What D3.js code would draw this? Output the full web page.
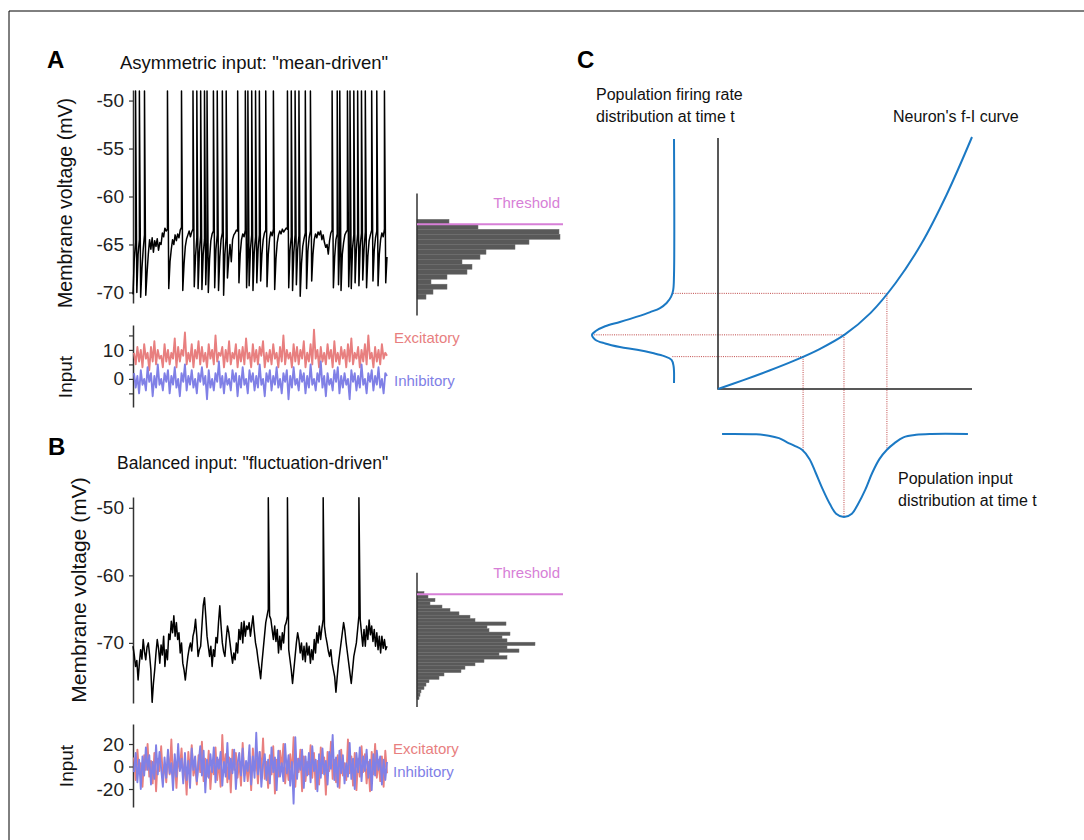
<!DOCTYPE html>
<html>
<head>
<meta charset="utf-8">
<script src="https://cdn.jsdelivr.net/npm/d3@7"></script>
<style>
body { margin: 0; background: #fff; }
svg { display: block; font-family: "Liberation Sans", Arial, sans-serif; }
</style>
</head>
<body>
<svg id="fig" width="1084" height="840"></svg>
<script>
// ---- panel A : membrane voltage (mV), one sample per step ----
const voltA = [
-70.2,-66.5,-64.8,-70.0,-66.0,-64.5,-70.5,-67.5,-65.5,-64.0,
-70.3,-68.0,-66.0,-64.5,-65.5,-64.3,-65.8,-64.6,-65.2,-64.4,
-65.6,-64.8,-65.0,-63.8,-64.2,-63.3,-63.6,-63.4,-69.6,-66.8,
-65.5,-64.5,-65.0,-64.0,-64.6,-63.9,-64.3,-63.5,-63.2,-69.8,
-67.0,-65.2,-64.4,-64.0,-63.6,-64.2,-63.7,-63.4,-69.4,-66.2,
-64.3,-69.6,-65.8,-64.1,-69.7,-66.0,-64.5,-69.2,-64.8,-70.0,
-66.5,-64.6,-63.9,-63.6,-69.5,-65.5,-64.0,-69.8,-66.3,-64.5,
-63.8,-70.3,-66.0,-64.2,-68.5,-66.5,-65.0,-66.8,-64.5,-64.0,
-63.8,-63.5,-63.6,-69.0,-66.0,-64.5,-63.9,-64.2,-63.5,-69.5,
-64.8,-69.3,-65.5,-64.0,-69.8,-65.8,-64.2,-69.0,-65.5,-64.0,
-68.8,-66.0,-64.5,-63.8,-63.5,-69.4,-66.0,-64.4,-63.7,-64.1,
-63.4,-69.7,-66.5,-64.8,-64.0,-63.6,-63.9,-63.4,-63.7,-63.5,
-63.3,-63.4,-69.5,-65.6,-64.2,-69.8,-65.8,-64.0,-69.2,-65.5,
-64.1,-70.4,-67.0,-65.2,-64.4,-63.8,-69.6,-65.7,-64.3,-63.6,
-68.8,-66.0,-64.5,-63.9,-64.3,-63.7,-64.0,-63.6,-64.5,-64.0,
-64.8,-65.3,-65.0,-66.0,-64.6,-63.8,-63.5,-69.5,-66.3,-64.5,
-63.9,-69.2,-64.6,-69.8,-66.0,-64.8,-64.0,-63.7,-63.5,-69.4,
-64.9,-69.6,-65.4,-64.0,-69.0,-65.5,-63.9,-69.3,-65.2,-63.8,
-68.7,-65.5,-63.7,-69.5,-66.2,-64.6,-64.0,-63.5,-68.8,-65.6,
-64.3,-63.6,-69.3,-66.0,-64.5,-63.8,-64.2,-63.4,-69.0,-66.3];
const spikesA = [2,5,9,27,38,47,50,53,56,58,63,66,70,73,82,88,90,93,96,99,104,110,
  121,124,127,130,135,139,156,160,162,168,170,173,176,179,182,187,191,197];
const spikePeakA = -49;
const yTicksA = [-50,-55,-60,-65,-70];

// histogram A, bins listed from top (highest voltage) down
const histTopA = -62.38, binWidthA = 0.52;
const histCountsA = [32,61,142,143,112,98,69,63,45,55,50,30,14,30,16,9];
const thresholdA = -62.9;

// input A
const excA = [9,5,11,6,10,4,12,7,9,3,11,6,13,5,10,7,8,4,12,6,
 10,5,9,7,14,4,11,6,10,8,16,5,9,6,12,4,10,7,13,5,
 11,6,9,4,12,7,10,5,15,6,9,8,11,4,10,6,13,5,9,7,
 12,4,10,6,11,5,14,7,9,4,12,6,10,5,11,8,13,4,9,6,
 10,5,12,7,9,4,11,6,15,5,10,7,9,4,12,6,11,5,10,7,
 13,4,9,6,12,5,17,7,10,4,11,6,9,5,12,7,10,4,13,6,
 9,5,11,7,10,4,12,6,14,5,9,7,11,4,10,6,12,5,15,7,
 9,4,11,6,10,5,12,7,9,8];
const inhA = [2,-3,1,-5,3,-2,0,-4,4,-1,2,-6,1,-3,5,-2,0,-4,2,-1,
 3,-5,1,-2,4,-3,0,-6,2,-1,5,-4,1,-2,3,-3,0,-5,2,-1,
 4,-2,1,-7,3,-3,0,-4,2,-1,6,-3,1,-5,2,-2,0,-4,3,-1,
 2,-6,1,-3,4,-2,0,-5,3,-1,2,-4,1,-3,5,-2,0,-6,2,-1,
 3,-4,1,-2,4,-3,0,-5,2,-1,3,-7,1,-3,4,-2,0,-4,3,-1,
 2,-5,1,-3,5,-2,0,-4,2,-1,6,-3,1,-6,2,-2,0,-4,3,-1,
 4,-5,1,-3,2,-2,0,-7,3,-1,2,-4,1,-3,5,-2,0,-5,2,-1,
 3,-4,1,-2,4,-3,0,-5,2,1];
const inTicksA = [-5,0,5,10,15];
const inLabelsA = [0,10];

// ---- panel B ----
const voltB = [
-70.5,-71.8,-73.5,-72.6,-75.5,-73.0,-71.0,-72.4,-69.5,-71.3,
-72.5,-70.6,-70.0,-71.8,-74.0,-78.8,-76.0,-74.0,-71.5,-69.5,
-70.8,-73.0,-70.3,-71.8,-69.0,-73.5,-71.0,-72.5,-68.7,-69.5,
-66.8,-68.5,-66.0,-69.0,-67.0,-69.5,-68.5,-71.5,-70.0,-73.0,
-74.0,-75.5,-73.6,-72.0,-70.8,-70.0,-71.2,-69.0,-68.2,-66.5,
-69.0,-72.0,-71.0,-70.5,-67.5,-64.5,-63.3,-66.0,-69.0,-70.5,
-72.0,-70.5,-73.5,-71.0,-72.0,-69.2,-70.0,-67.0,-64.5,-67.5,
-70.0,-71.3,-72.0,-69.5,-67.5,-68.4,-70.0,-71.6,-73.0,-71.5,
-72.5,-70.0,-71.5,-68.0,-69.5,-67.0,-70.0,-66.8,-69.0,-67.5,
-68.0,-67.0,-69.0,-67.5,-66.0,-68.2,-70.0,-71.0,-72.5,-73.8,
-75.3,-73.0,-71.0,-69.0,-67.0,-66.0,-65.0,-66.0,-66.5,-68.0,
-69.5,-67.5,-69.8,-68.0,-71.5,-69.0,-71.0,-68.5,-70.0,-67.5,
-67.0,-66.0,-71.0,-72.5,-74.0,-76.0,-74.0,-72.0,-70.0,-68.5,
-69.6,-71.5,-70.0,-72.5,-70.5,-72.8,-70.0,-71.8,-70.5,-73.0,
-71.0,-72.5,-69.5,-71.5,-68.5,-70.0,-67.5,-69.5,-67.8,-66.5,
-67.5,-69.0,-70.0,-71.2,-72.0,-71.0,-73.0,-74.0,-75.0,-77.3,
-75.0,-73.0,-71.5,-70.0,-68.5,-67.0,-68.2,-70.0,-71.5,-73.0,
-74.5,-76.0,-74.0,-72.0,-71.0,-70.0,-68.0,-66.0,-66.5,-68.5,
-70.5,-68.0,-70.5,-67.5,-69.5,-66.6,-68.8,-67.5,-69.8,-68.0,
-70.5,-68.5,-71.0,-69.0,-71.5,-69.0,-70.8,-69.5,-71.0,-70.5];
const spikesB = [106,121,149,177];
const spikePeakB = -48.5;
const yTicksB = [-50,-60,-70];

const histTopB = -62.4, binWidthB = 0.5;
const histCountsB = [7,11,18,13,25,33,42,53,58,89,70,72,93,85,90,118,90,102,82,90,
  67,58,48,44,27,22,12,9,7,4,3,2];
const thresholdB = -62.8;

const excB = [8,-12,15,-6,3,-18,10,-3,20,-9,5,-15,12,-22,7,-4,18,-10,2,-14,
 11,-7,24,-12,6,-19,9,-2,16,-11,4,-25,13,-6,19,-8,1,-16,10,-5,
 22,-13,7,-9,14,-20,3,-7,17,-12,6,-18,28,-5,11,-14,8,-23,15,-3,
 12,-10,5,-17,21,-8,2,-13,9,-21,16,-4,7,-15,13,-6,25,-11,4,-19,
 10,-7,18,-24,6,-9,14,-3,20,-15,3,-12,11,-8,26,-18,7,-5,15,-22,
 9,-13,4,-7,19,-10,12,-20,5,-16,17,-6,8,-25,13,-4,22,-11,6,-14,
 10,-19,15,-8,3,-12,24,-6,9,-17,12,-21,7,-9,18,-5,11,-15,4,-22,
 13,-7,20,-10,6,-13,9,-18,14,-6];
const inhB = [-5,12,-14,6,-20,9,-8,17,-3,10,-16,4,-11,19,-7,13,-2,-18,8,-10,
 15,-6,3,-21,11,-9,20,-4,7,-15,12,-12,5,-19,16,-3,9,-13,2,18,
 -8,14,-23,6,-10,11,-5,17,-14,8,-2,13,-17,4,-9,21,-11,7,-6,15,
 -20,3,12,-8,16,-13,5,-4,19,-16,9,-10,30,-7,13,-18,2,11,-12,6,
 -15,17,-5,8,-21,14,-9,3,-13,20,-6,10,-17,4,-33,26,-11,7,-3,15,
 -19,9,-8,12,-14,18,-4,6,-22,11,-10,16,-7,5,-16,13,-2,28,-12,8,
 -18,14,-6,10,-15,3,-9,21,-11,7,-20,12,-5,17,-13,9,-4,15,-10,6,
 -21,11,-8,14,-3,9,-16,6,-12,4];
const inTicksB = [-20,0,20];

// ---- panel C (arbitrary units 0..100) ----
const fiInput = [0,10,20,30,40,50,60,70,80,90,100];
const fiRate  = [0,3.5,7.2,11.2,15.8,21.6,30.0,42.0,57.3,76.8,99.6];
const rateDistRate = [2.4,9,11.5,13,14.2,15.5,16.6,18,19.5,21.4,23,24.8,26.5,28.5,30.4,32,34,36.5,39.1,45,98.8];
const rateDistDens = [0,0.005,0.03,0.12,0.26,0.45,0.66,0.84,0.96,1,0.95,0.84,0.66,0.46,0.29,0.17,0.09,0.035,0.01,0,0];
const inDistInput = [1.6,15,20,24,27.2,30,33.1,36,38.5,41.3,44,46.5,49.6,52.7,55.2,58,60.7,63.6,66.5,69.5,73,78,84,98.4];
const inDistDens  = [0,0.004,0.02,0.05,0.1,0.14,0.19,0.3,0.47,0.67,0.84,0.96,1,0.96,0.84,0.67,0.47,0.3,0.19,0.11,0.04,0.01,0,0];
const guideInput = [33.5,49.6,66.5];
const guideRate  = [12.8,21.4,37.8];
const guideRateDens = [0.02,1,0.01];
const guideInDens = [0.19,1,0.19];

// ---- colours ----
const cExc = "#e87f7f", cInh = "#8080e6", cThr = "#d77fd7", cBlue = "#1b79c4", cGuide = "#b83232";
const FONT = "'Liberation Sans', Arial, sans-serif";

const svg = d3.select("#fig");

// frame (top and left edge)
svg.append("path").attr("d", "M9,840 V11 H1084").attr("fill","none").attr("stroke","#000").attr("stroke-width",1);

function txt(x, y, s, opt = {}) {
  return svg.append("text").attr("x", x).attr("y", y).text(s)
    .attr("font-size", opt.size || 17)
    .attr("font-weight", opt.bold ? "bold" : "normal")
    .attr("fill", opt.color || "#111")
    .attr("text-anchor", opt.anchor || "start");
}
function vtxt(cx, cy, s, size) {
  svg.append("text").attr("transform", `translate(${cx},${cy}) rotate(-90)`)
    .attr("text-anchor","middle").attr("dominant-baseline","central")
    .attr("font-size", size).attr("fill","#111").text(s);
}
function styleAxis(g) {
  g.select(".domain").attr("stroke","#333").attr("stroke-width",1.5);
  g.selectAll(".tick line").attr("stroke","#333").attr("stroke-width",1.2);
  g.selectAll(".tick text").attr("font-size",19).attr("font-family",FONT).attr("fill","#222");
}

function tracePanel(o) {
  const x = d3.scaleLinear().domain([0, o.volt.length - 1]).range([133, 387]);
  const y = d3.scaleLinear().domain(o.vDomain).range(o.vRange);
  const g = svg.append("g").attr("transform","translate(133,0)")
    .call(d3.axisLeft(y).tickValues(o.ticks).tickSize(4).tickPadding(5).tickSizeOuter(0)
      .tickFormat(d => String(d)));
  styleAxis(g);

  const rows = [];
  o.volt.forEach((v, i) => {
    rows.push({ i, v });
    if (o.spikes.includes(i)) rows.push({ i, v: o.peak });
  });
  svg.append("path").datum(rows)
    .attr("fill","none").attr("stroke","#000").attr("stroke-width",1.5).attr("stroke-linejoin","round")
    .attr("d", d3.line().x(d => x(d.i)).y(d => y(d.v)));

  // histogram
  const xh = d3.scaleLinear().domain([0, 150]).range([417, 567]);
  svg.selectAll(null).data(o.counts).enter().append("rect")
    .attr("x", xh(0))
    .attr("y", (c, k) => y(o.histTop - k * o.binW))
    .attr("width", c => xh(c) - xh(0))
    .attr("height", y(o.histTop - o.binW) - y(o.histTop))
    .attr("fill","#595959").attr("stroke","#6e6e6e").attr("stroke-width",0.5);
  svg.append("line").attr("x1", xh(0)).attr("x2", xh(0))
    .attr("y1", y(o.histAxis[1])).attr("y2", y(o.histAxis[0]))
    .attr("stroke","#333").attr("stroke-width",1.5);
  svg.append("line").attr("x1", xh(0)).attr("x2", xh(146))
    .attr("y1", y(o.thr)).attr("y2", y(o.thr))
    .attr("stroke", cThr).attr("stroke-width",2);
  txt(560, y(o.thr) - 16, "Threshold", { size: 15, color: cThr, anchor: "end" });

  // inputs
  const yi = d3.scaleLinear().domain(o.inDomain).range(o.inRange);
  const gi = svg.append("g").attr("transform","translate(133,0)")
    .call(d3.axisLeft(yi).tickValues(o.inTicks).tickSize(4).tickPadding(5).tickSizeOuter(0)
      .tickFormat(d => o.inLabels.includes(d) ? String(d) : ""));
  styleAxis(gi);
  [[o.exc, cExc], [o.inh, cInh]].forEach(([arr, col]) => {
    const xi = d3.scaleLinear().domain([0, arr.length - 1]).range([134, 387]);
    svg.append("path").datum(arr).attr("fill","none").attr("stroke", col).attr("stroke-width",1.9)
      .attr("stroke-linejoin","round")
      .attr("d", d3.line().x((d, i) => xi(i)).y(d => yi(d)));
  });
}

// Panel A
txt(47, 68, "A", { size: 24, bold: true, color: "#000" });
txt(120, 69, "Asymmetric input: \"mean-driven\"", { size: 18.5 });
vtxt(65, 203, "Membrane voltage (mV)", 19.6);
vtxt(65, 377, "Input", 19);
tracePanel({
  volt: voltA, spikes: spikesA, peak: spikePeakA, ticks: yTicksA,
  vDomain: [-71.1, -48.9], vRange: [303, 90],
  counts: histCountsA, histTop: histTopA, binW: binWidthA, histAxis: [-72.4, -59.7], thr: thresholdA,
  exc: excA, inh: inhA, inDomain: [-9.7, 18.6], inRange: [407, 325], inTicks: inTicksA, inLabels: inLabelsA
});
txt(394, 343, "Excitatory", { size: 15, color: cExc });
txt(394, 386, "Inhibitory", { size: 15, color: cInh });

// Panel B
txt(48, 455, "B", { size: 24, bold: true, color: "#000" });
txt(117, 469, "Balanced input: \"fluctuation-driven\"", { size: 17.5 });
vtxt(78, 590, "Membrane voltage (mV)", 21);
vtxt(66, 766, "Input", 19);
tracePanel({
  volt: voltB, spikes: spikesB, peak: spikePeakB, ticks: yTicksB,
  vDomain: [-78.9, -48.4], vRange: [703, 497],
  counts: histCountsB, histTop: histTopB, binW: binWidthB, histAxis: [-79.5, -59.6], thr: thresholdB,
  exc: excB, inh: inhB, inDomain: [-36, 37.8], inRange: [807, 724], inTicks: inTicksB, inLabels: inTicksB
});
txt(393, 754, "Excitatory", { size: 15, color: cExc });
txt(393, 777, "Inhibitory", { size: 15, color: cInh });

// Panel C
txt(577, 68, "C", { size: 24, bold: true, color: "#000" });
txt(596, 100, "Population firing rate", { size: 16 });
txt(596, 122, "distribution at time t", { size: 16 });
txt(893, 122, "Neuron's f-I curve", { size: 16 });
txt(898, 484, "Population input", { size: 16 });
txt(898, 506, "distribution at time t", { size: 16 });

const xC = d3.scaleLinear().domain([0, 100]).range([718, 972]);
const yC = d3.scaleLinear().domain([0, 100]).range([389, 136]);
const rateDens = d3.scaleLinear().domain([0, 1]).range([674, 592]);
const inDens = d3.scaleLinear().domain([0, 1]).range([434, 517]);

// guide lines
guideRate.forEach((r, k) => {
  svg.append("line").attr("x1", rateDens(guideRateDens[k])).attr("x2", xC(guideInput[k]))
    .attr("y1", yC(r)).attr("y2", yC(r))
    .attr("stroke", cGuide).attr("stroke-width",0.9).attr("stroke-dasharray","1,1.2");
  svg.append("line").attr("x1", xC(guideInput[k])).attr("x2", xC(guideInput[k]))
    .attr("y1", yC(r)).attr("y2", inDens(guideInDens[k]))
    .attr("stroke", cGuide).attr("stroke-width",0.9).attr("stroke-dasharray","1,1.2");
});

// axes of the f-I plot
svg.append("path").attr("d", `M${xC(0)},${yC(99.2)} V${yC(0)} H${xC(100)}`)
  .attr("fill","none").attr("stroke","#222").attr("stroke-width",1.5);

const curve = d3.curveCatmullRom.alpha(0.5);
svg.append("path").datum(fiInput.map((v, i) => [v, fiRate[i]]))
  .attr("fill","none").attr("stroke", cBlue).attr("stroke-width",2)
  .attr("d", d3.line().x(d => xC(d[0])).y(d => yC(d[1])).curve(curve));
svg.append("path").datum(rateDistRate.map((r, i) => [rateDistDens[i], r]))
  .attr("fill","none").attr("stroke", cBlue).attr("stroke-width",2)
  .attr("d", d3.line().x(d => rateDens(d[0])).y(d => yC(d[1])).curve(curve));
svg.append("path").datum(inDistInput.map((v, i) => [v, inDistDens[i]]))
  .attr("fill","none").attr("stroke", cBlue).attr("stroke-width",2)
  .attr("d", d3.line().x(d => xC(d[0])).y(d => inDens(d[1])).curve(curve));
</script>
</body>
</html>
